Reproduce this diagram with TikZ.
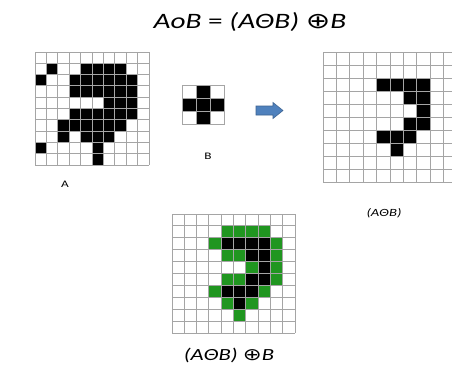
\documentclass[tikz,border=0pt]{standalone}
\usepackage{fontspec}
\setmainfont{Carlito}
\newfontfamily\symfnt{DejaVu Sans}
\definecolor{gridgray}{RGB}{165,165,165}
\definecolor{dilgreen}{RGB}{32,150,32}
\definecolor{arrowblue}{RGB}{79,129,189}
\definecolor{arrowedge}{RGB}{60,98,145}
\newcommand\widetext[1]{\scalebox{1.33}[1]{#1}}
\begin{document}
\begin{tikzpicture}[x=1pt,y=-1pt,
  gridline/.style={draw=gridgray,line width=0.9pt},
  blackcell/.style={fill=black},
  greencell/.style={fill=dilgreen},
  blockarrow/.style={fill=arrowblue,draw=arrowedge,line width=0.6pt,line join=miter},
  lbl/.style={inner sep=0pt,font=\fontsize{10}{12}\selectfont}]
\clip (0,0) rectangle (452,376);
\fill[white] (0,0) rectangle (452,376);

% title
\node[inner sep=0pt,font=\fontsize{22}{26}\selectfont] (title) at (250,22)
  {\widetext{\itshape AoB\upshape{} = \itshape(AΘB)\upshape{} {\symfnt ⊕}\itshape B}};

% grid A
\begin{scope}[shift={(35,52)},x=11.4pt,y=-11.3pt]
  \foreach \r/\c in {1/1,1/4,1/5,1/6,1/7,
     2/0,2/3,2/4,2/5,2/6,2/7,2/8,
     3/3,3/4,3/5,3/6,3/7,3/8,
     4/6,4/7,4/8,
     5/3,5/4,5/5,5/6,5/7,5/8,
     6/2,6/3,6/4,6/5,6/6,6/7,
     7/2,7/4,7/5,7/6,
     8/0,8/5,9/5}
     \fill[blackcell] (\c,\r) rectangle ++(1,1);
  \foreach \i in {0,...,10} {
    \draw[gridline] (\i,0) -- (\i,10);
    \draw[gridline] (0,\i) -- (10,\i);
  }
\end{scope}
\node[lbl] (la) at (65,184) {\widetext{A}};

% grid B
\begin{scope}[shift={(182,85)},x=14.3pt,y=-13.3pt]
  \foreach \r/\c in {0/1,1/0,1/1,1/2,2/1}
     \fill[blackcell] (\c,\r) rectangle ++(1,1);
  \foreach \i in {0,...,3} {
    \draw[gridline] (\i,0) -- (\i,3);
    \draw[gridline] (0,\i) -- (3,\i);
  }
\end{scope}
\node[lbl] (lb) at (208,156) {\widetext{B}};

% block arrow
\coordinate (arr) at (269,110.5);
\draw[blockarrow] (256,106) -- (273,106) -- (273,102.5) -- (283,110.5)
  -- (273,118.5) -- (273,115) -- (256,115) -- cycle;

% eroded grid
\begin{scope}[shift={(323,52)},x=13.4pt,y=-13pt]
  \foreach \r/\c in {2/4,2/5,2/6,2/7,3/6,3/7,4/7,5/6,5/7,6/4,6/5,6/6,7/5}
     \fill[blackcell] (\c,\r) rectangle ++(1,1);
  \foreach \i in {0,...,10} {
    \draw[gridline] (\i,0) -- (\i,10);
    \draw[gridline] (0,\i) -- (10,\i);
  }
\end{scope}
\node[lbl,font=\fontsize{11}{13}\selectfont\itshape] (le) at (384,213) {\widetext{(AΘB)}};

% dilated grid
\begin{scope}[shift={(172,214)},x=12.3pt,y=-11.9pt]
  \foreach \r/\c in {1/4,1/5,1/6,1/7,2/3,2/8,3/4,3/5,3/8,4/6,4/8,
     5/4,5/5,5/8,6/3,6/7,7/4,7/6,8/5}
     \fill[greencell] (\c,\r) rectangle ++(1,1);
  \foreach \r/\c in {2/4,2/5,2/6,2/7,3/6,3/7,4/7,5/6,5/7,6/4,6/5,6/6,7/5}
     \fill[blackcell] (\c,\r) rectangle ++(1,1);
  \foreach \i in {0,...,10} {
    \draw[gridline] (\i,0) -- (\i,10);
    \draw[gridline] (0,\i) -- (10,\i);
  }
\end{scope}
\node[inner sep=0pt,font=\fontsize{17}{20}\selectfont] (ld) at (229,355)
  {\widetext{\itshape(AΘB)\upshape{} {\symfnt ⊕}\itshape B}};
\end{tikzpicture}
\end{document}
